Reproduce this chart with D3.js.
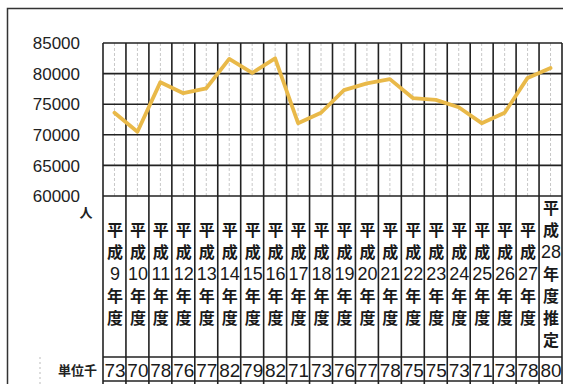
<!DOCTYPE html>
<meta charset="utf-8">
<script src="https://d3js.org/d3.v7.min.js"></script>
<style>
  body { margin: 0; background: #fff; }
</style>
<div id="my_dataviz"></div>
<script>
// fiscal years (Heisei era)
var years = ["9","10","11","12","13","14","15","16","17","18","19","20","21","22","23","24","25","26","27","28"];
// visitors
var people = [73600, 70500, 78600, 76800, 77600, 82400, 80100, 82500, 71900, 73600, 77300, 78400, 79100, 76000, 75700, 74500, 71900, 73600, 79300, 80900];
// table row (unit: thousand)
var tableValues = [73, 70, 78, 76, 77, 82, 79, 82, 71, 73, 76, 77, 78, 75, 75, 73, 71, 73, 78, 80];
var yTicks = [60000, 65000, 70000, 75000, 80000, 85000];

var W = 563, H = 384;
var gridLeft = 103, gridRight = 562, gridTop = 43, gridBottom = 196;
var rowTop = 357, rowBottom = 381;

var svg = d3.select("#my_dataviz")
  .append("svg")
    .attr("width", W)
    .attr("height", H);

// outer frame
svg.append("path")
  .attr("d", "M7.5," + H + "V8.5H" + W)
  .attr("fill", "none")
  .attr("stroke", "#333")
  .attr("stroke-width", 1.5);

var x = d3.scaleBand()
  .domain(years)
  .range([gridLeft, gridRight]);

var y = d3.scaleLinear()
  .domain([60000, 85000])
  .range([gridBottom, gridTop]);

// minor dashed lines at column centers
svg.append("g")
  .selectAll("line")
  .data(years)
  .enter()
  .append("line")
    .attr("x1", function(d) { return x(d) + x.bandwidth() / 2; })
    .attr("x2", function(d) { return x(d) + x.bandwidth() / 2; })
    .attr("y1", gridTop)
    .attr("y2", gridBottom)
    .attr("stroke", "#c8c8c8")
    .attr("stroke-width", 1)
    .attr("stroke-dasharray", "3,2");

// horizontal grid
svg.append("g")
  .selectAll("line")
  .data(yTicks)
  .enter()
  .append("line")
    .attr("x1", gridLeft)
    .attr("x2", gridRight)
    .attr("y1", function(d) { return y(d); })
    .attr("y2", function(d) { return y(d); })
    .attr("stroke", "#222")
    .attr("stroke-width", 1.6);

// column boundaries
var bounds = years.map(function(d) { return x(d); }).concat([gridRight]);
svg.append("g")
  .selectAll("line")
  .data(bounds)
  .enter()
  .append("line")
    .attr("x1", function(d) { return d; })
    .attr("x2", function(d) { return d; })
    .attr("y1", gridTop)
    .attr("y2", rowBottom + 3)
    .attr("stroke", "#222")
    .attr("stroke-width", 1.6);

// table row lines
[rowTop, rowBottom].forEach(function(v) {
  svg.append("line")
    .attr("x1", gridLeft).attr("x2", gridRight)
    .attr("y1", v).attr("y2", v)
    .attr("stroke", "#222")
    .attr("stroke-width", 1.6);
});

// y labels
svg.append("g")
  .selectAll("text")
  .data(yTicks)
  .enter()
  .append("text")
    .attr("x", 80)
    .attr("y", function(d) { return y(d); })
    .attr("dy", "0.36em")
    .attr("text-anchor", "end")
    .style("font-family", "Liberation Sans, Arial, sans-serif")
    .style("font-size", "17px")
    .attr("fill", "#222")
    .text(function(d) { return d; });

svg.append("text")
  .attr("x", 86).attr("y", 212)
  .attr("dy", "0.35em")
  .attr("text-anchor", "middle")
  .style("font-family", "Noto Sans CJK JP")
  .style("font-weight", "bold")
  .style("font-size", "13px")
  .attr("fill", "#222")
  .text("人");

// the line
var line = d3.line()
  .x(function(d, i) { return x(years[i]) + x.bandwidth() / 2; })
  .y(function(d) { return y(d); });

svg.append("path")
  .datum(people)
  .attr("d", line)
  .attr("fill", "none")
  .attr("stroke", "#e9b949")
  .attr("stroke-width", 3.8)
  .attr("stroke-linejoin", "round")
  .attr("stroke-linecap", "round");

// vertical column labels
years.forEach(function(yr, i) {
  var last = i === years.length - 1;
  var parts = last ? ["平","成",yr,"年","度","推","定"] : ["平","成",yr,"年","度"];
  var startY = last ? 208 : 230;
  var cx = x(yr) + x.bandwidth() / 2;
  parts.forEach(function(p, j) {
    var isNum = /^[0-9]+$/.test(p);
    svg.append("text")
      .attr("x", cx + 0.5)
      .attr("y", startY + j * 22)
      .attr("dy", "0.36em")
      .attr("text-anchor", "middle")
      .style("font-family", isNum ? "Liberation Sans Narrow, Liberation Sans, sans-serif" : "Noto Sans CJK JP")
      .style("font-weight", isNum ? "normal" : "bold")
      .style("font-size", isNum ? "18px" : "16px")
      .attr("fill", "#1a1a1a")
      .text(p);
  });
});

// table values
svg.append("g")
  .selectAll("text")
  .data(tableValues)
  .enter()
  .append("text")
    .attr("x", function(d, i) { return x(years[i]) + x.bandwidth() / 2 + 0.5; })
    .attr("y", (rowTop + rowBottom) / 2 + 1)
    .attr("dy", "0.36em")
    .attr("text-anchor", "middle")
    .style("font-family", "Liberation Sans Narrow, Liberation Sans, sans-serif")
    .style("font-size", "19px")
    .attr("fill", "#1a1a1a")
    .text(function(d) { return d; });

svg.append("text")
  .attr("x", 97).attr("y", (rowTop + rowBottom) / 2 + 1)
  .attr("dy", "0.36em")
  .attr("text-anchor", "end")
  .style("font-family", "Noto Sans CJK JP")
  .style("font-weight", "bold")
  .style("font-size", "13px")
  .attr("fill", "#222")
  .text("単位千");

// faint dashed mark left of the unit cell
svg.append("line")
  .attr("x1", 40).attr("x2", 40)
  .attr("y1", rowTop).attr("y2", H)
  .attr("stroke", "#bbb")
  .attr("stroke-dasharray", "2,3");
</script>
